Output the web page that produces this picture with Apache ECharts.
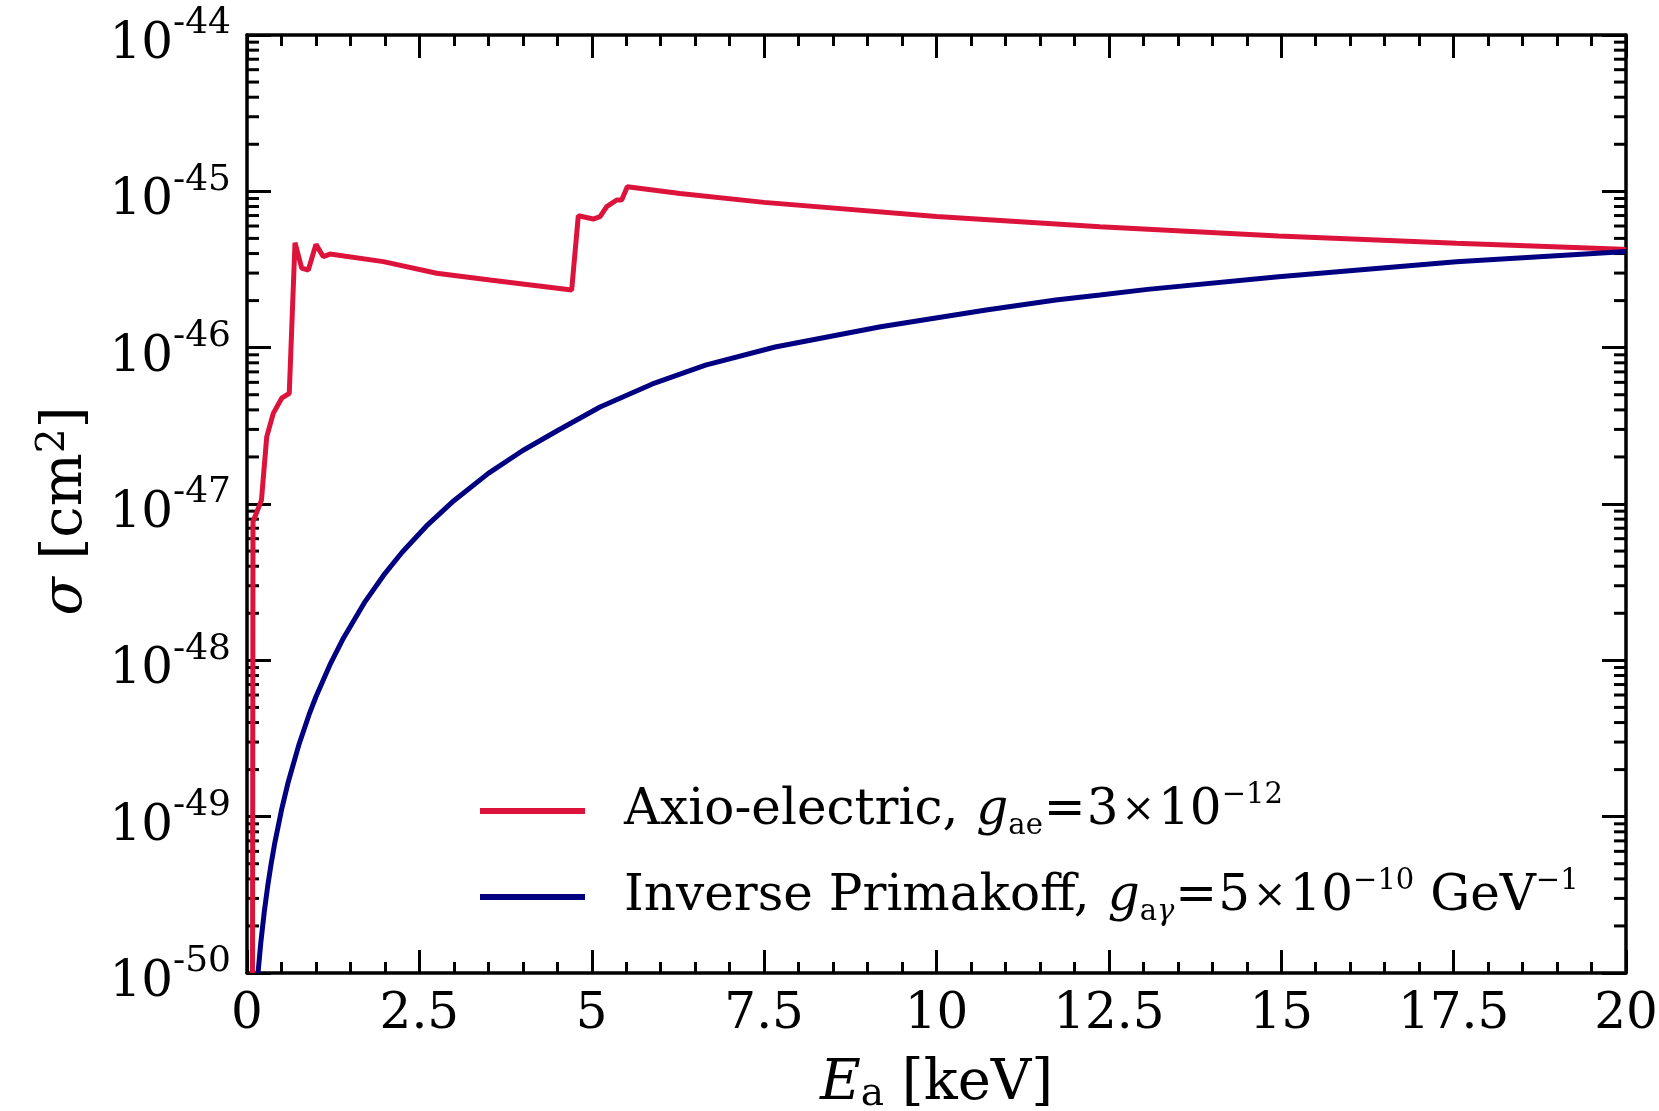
<!DOCTYPE html>
<html><head><meta charset="utf-8">
<script src="https://cdn.jsdelivr.net/npm/echarts@6/dist/echarts.min.js"></script>
<style>html,body{margin:0;padding:0;background:#fff}#c{width:1659px;height:1111px}</style>
</head><body><div id="c"></div>
<script>
// ---- data (E in keV, sigma in cm^2) ----
const axioE = [0.08, 0.087, 0.21, 0.286, 0.381, 0.503, 0.613, 0.696, 0.793, 0.889, 1.0, 1.107, 1.204, 1.977, 2.751, 3.524, 4.709, 4.805, 5.022, 5.12, 5.217, 5.362, 5.434, 5.516, 6.28, 7.5, 10.0, 12.37, 14.96, 17.54, 19.95, 20.0];
const axioSigma = [1e-50, 7.7e-48, 1.06e-47, 2.69e-47, 3.8e-47, 4.75e-47, 5.1e-47, 4.69e-46, 3.23e-46, 3.14e-46, 4.58e-46, 3.82e-46, 3.97e-46, 3.55e-46, 2.99e-46, 2.71e-46, 2.34e-46, 6.98e-46, 6.65e-46, 6.89e-46, 7.98e-46, 8.8e-46, 8.8e-46, 1.07e-45, 9.7e-46, 8.5e-46, 6.9e-46, 5.94e-46, 5.18e-46, 4.65e-46, 4.26e-46, 4.22e-46];
const primE = [0.16, 0.20, 0.25, 0.30, 0.35, 0.40, 0.50, 0.60, 0.75, 0.90, 1.0, 1.2, 1.4, 1.7, 2.0, 2.25, 2.6, 3.0, 3.5, 4.0, 4.5, 5.12, 5.88, 6.65, 7.66, 9.19, 10.72, 11.73, 12.37, 13.06, 14.96, 17.54, 19.95, 20.0];
const primSigma = [1.0e-50, 1.56e-50, 2.45e-50, 3.59e-50, 4.99e-50, 6.68e-50, 1.10e-49, 1.68e-49, 2.86e-49, 4.49e-49, 5.85e-49, 9.31e-49, 1.39e-48, 2.33e-48, 3.59e-48, 4.91e-48, 7.21e-48, 1.05e-47, 1.57e-47, 2.20e-47, 2.94e-47, 4.17e-47, 5.86e-47, 7.74e-47, 1.01e-46, 1.36e-46, 1.74e-46, 2.02e-46, 2.17e-46, 2.36e-46, 2.84e-46, 3.55e-46, 4.11e-46, 4.12e-46];
const xTickLabels = ['0', '2.5', '5', '7.5', '10', '12.5', '15', '17.5', '20'];
const yDecadeExps = [-50, -49, -48, -47, -46, -45, -44];
const minorMultipliers = [2, 3, 4, 5, 6, 7, 8, 9];
const seriesNames = ['Axio-electric', 'Inverse Primakoff'];

// ---- helpers ----
const OFFSET = 50;                       // plot in units of 1e-50 cm^2 (avoids float rounding in log axis)
const toAxis = v => v * Math.pow(10, OFFSET);
const FONT = 'DejaVu Serif';
const xMin = 0, xMax = 20, xInterval = 2.5;
const yMin = Math.pow(10, yDecadeExps[0] + OFFSET);
const yMax = Math.pow(10, yDecadeExps[yDecadeExps.length - 1] + OFFSET);

const minorTickData = [];
for (let i = 0; i < yDecadeExps.length - 1; i++) {
  for (const m of minorMultipliers) minorTickData.push([xMin, m * Math.pow(10, yDecadeExps[i] + OFFSET)]);
}

const lineBlack = { color: '#000', width: 3.5 };
const tickStyle = { color: '#000', width: 3 };

function xAxisCfg(pos, showLabel) {
  return {
    type: 'value', position: pos, min: xMin, max: xMax, interval: xInterval,
    axisLine: { show: true, onZero: false, lineStyle: lineBlack },
    axisTick: { show: true, inside: true, length: 23, lineStyle: tickStyle },
    minorTick: { show: true, splitNumber: 5, length: 11, lineStyle: tickStyle },
    splitLine: { show: false },
    axisLabel: {
      show: showLabel, fontFamily: FONT, fontSize: 50, color: '#000', margin: 17,
      formatter: v => xTickLabels[Math.round(v / xInterval)]
    }
  };
}
function yAxisCfg(pos, showLabel) {
  return {
    type: 'log', logBase: 10, position: pos, min: yMin, max: yMax, splitNumber: 6,
    axisLine: { show: true, onZero: false, lineStyle: lineBlack },
    axisTick: { show: true, inside: true, length: 24, lineStyle: tickStyle },
    splitLine: { show: false },
    axisLabel: {
      show: showLabel, margin: 16, color: '#000', padding: [6, 0, 0, 0],
      formatter: v => '{b|10}{s|' + (Math.round(Math.log10(v)) - OFFSET) + '}',
      rich: {
        b: { fontFamily: FONT, fontSize: 50, color: '#000', lineHeight: 64, verticalAlign: 'bottom' },
        s: { fontFamily: FONT, fontSize: 36, color: '#000', lineHeight: 36, verticalAlign: 'top' }
      }
    }
  };
}

const xAxes = [xAxisCfg('bottom', true), xAxisCfg('top', false)];
xAxes[0].name = '{i|E}{sub|a} [keV]';
xAxes[0].nameLocation = 'middle';
xAxes[0].nameGap = 81;
xAxes[0].nameTextStyle = {
  fontFamily: FONT, fontSize: 56, color: '#000', lineHeight: 60,
  rich: {
    i: { fontFamily: FONT, fontSize: 56, fontStyle: 'italic', color: '#000', lineHeight: 60 },
    sub: { fontFamily: FONT, fontSize: 39, color: '#000', lineHeight: 38, verticalAlign: 'bottom' }
  }
};
const yAxes = [yAxisCfg('left', true), yAxisCfg('right', false)];
yAxes[0].name = '{i|σ} [cm{sup|2}]';
yAxes[0].nameLocation = 'middle';
yAxes[0].nameRotate = 90;
yAxes[0].nameGap = 146;
yAxes[0].nameTextStyle = {
  fontFamily: FONT, fontSize: 56, color: '#000', lineHeight: 64, padding: [0, 14, 0, 0],
  rich: {
    i: { fontFamily: FONT, fontSize: 56, fontStyle: 'italic', color: '#000', lineHeight: 64 },
    sup: { fontFamily: FONT, fontSize: 39, color: '#000', lineHeight: 40, verticalAlign: 'top' }
  }
};

const legendRich = {
  i: { fontFamily: FONT, fontSize: 50, fontStyle: 'italic', color: '#000', lineHeight: 60, padding: [0, 0, 0, 18] },
  op: { fontFamily: FONT, fontSize: 50, color: '#000', lineHeight: 60, padding: [0, 1, 0, 1] },
  x: { fontFamily: FONT, fontSize: 40, color: '#000', lineHeight: 60, padding: [0, 3, 0, 3] },
  sub: { fontFamily: FONT, fontSize: 29, color: '#000', lineHeight: 32, verticalAlign: 'bottom' },
  subi: { fontFamily: FONT, fontSize: 29, fontStyle: 'italic', color: '#000', lineHeight: 32, verticalAlign: 'bottom' },
  sup: { fontFamily: FONT, fontSize: 29, color: '#000', lineHeight: 34, verticalAlign: 'top' }
};
const legendLabels = {
  'Axio-electric': 'Axio-electric,{i|g}{sub|ae}{op|=}3{x|×}10{sup|−12}',
  'Inverse Primakoff': 'Inverse Primakoff,{i|g}{sub|a}{subi|γ}{op|=}5{x|×}10{sup|−10} GeV{sup|−1}'
};

const option = {
  animation: false,
  backgroundColor: '#fff',
  grid: { left: 247, right: 33, top: 35, bottom: 138, containLabel: false, outerBoundsMode: 'none' },
  xAxis: xAxes,
  yAxis: yAxes,
  legend: {
    data: seriesNames, orient: 'vertical', left: 480, top: 781, padding: 0,
    itemWidth: 105, itemHeight: 6, itemGap: 26, icon: 'rect',
    formatter: n => legendLabels[n],
    textStyle: { fontFamily: FONT, fontSize: 50, color: '#000', lineHeight: 60, padding: [0, 0, 0, 34], rich: legendRich }
  },
  series: [
    {
      name: seriesNames[0], type: 'line', showSymbol: false, symbol: 'none',
      lineStyle: { color: '#DC143C', width: 5 }, itemStyle: { color: '#DC143C' },
      data: axioE.map((e, i) => [e, toAxis(axioSigma[i])]), z: 3
    },
    {
      name: seriesNames[1], type: 'line', showSymbol: false, symbol: 'none',
      lineStyle: { color: '#000080', width: 5 }, itemStyle: { color: '#000080' },
      data: primE.map((e, i) => [e, toAxis(primSigma[i])]), z: 4
    },
    {
      name: 'yMinorTicks', type: 'custom', silent: true, clip: false, z: 1,
      encode: { x: 0, y: 1 },
      data: minorTickData,
      renderItem: (params, api) => {
        const v = api.value(1);
        const pL = api.coord([xMin, v]);
        const pR = api.coord([xMax, v]);
        return {
          type: 'group', children: [
            { type: 'line', shape: { x1: pL[0], y1: pL[1], x2: pL[0] + 12, y2: pL[1] }, style: { stroke: '#000', lineWidth: 3 } },
            { type: 'line', shape: { x1: pR[0] - 12, y1: pR[1], x2: pR[0], y2: pR[1] }, style: { stroke: '#000', lineWidth: 3 } }
          ]
        };
      }
    }
  ]
};
const chart = echarts.init(document.getElementById('c'), null, { renderer: 'canvas' });
chart.setOption(option);
</script></body></html>
